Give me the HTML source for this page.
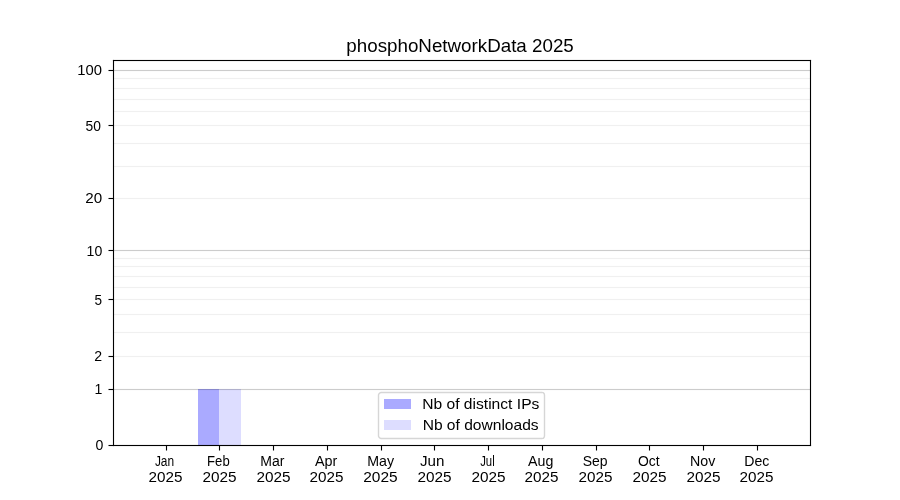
<!DOCTYPE html>
<html><head><meta charset="utf-8"><title>phosphoNetworkData 2025</title><style>html,body{margin:0;padding:0;background:#fff;width:900px;height:500px;overflow:hidden}svg{display:block;will-change:transform}text{font-family:"Liberation Sans",sans-serif;fill:#000}</style></head><body>
<svg width="900" height="500" viewBox="0 0 900 500">
<rect width="900" height="500" fill="#fff"/>
<g shape-rendering="crispEdges">
<rect x="198" y="389" width="21" height="56" fill="#aaaaff"/>
<rect x="219" y="389" width="22" height="56" fill="#ddddff"/>
<rect x="114" y="78" width="696" height="1" fill="#000" fill-opacity="0.06"/>
<rect x="114" y="77" width="696" height="1" fill="#000" fill-opacity="0.005"/>
<rect x="114" y="79" width="696" height="1" fill="#000" fill-opacity="0.005"/>
<rect x="114" y="88" width="696" height="1" fill="#000" fill-opacity="0.06"/>
<rect x="114" y="87" width="696" height="1" fill="#000" fill-opacity="0.005"/>
<rect x="114" y="89" width="696" height="1" fill="#000" fill-opacity="0.005"/>
<rect x="114" y="99" width="696" height="1" fill="#000" fill-opacity="0.06"/>
<rect x="114" y="98" width="696" height="1" fill="#000" fill-opacity="0.005"/>
<rect x="114" y="100" width="696" height="1" fill="#000" fill-opacity="0.005"/>
<rect x="114" y="111" width="696" height="1" fill="#000" fill-opacity="0.06"/>
<rect x="114" y="110" width="696" height="1" fill="#000" fill-opacity="0.005"/>
<rect x="114" y="112" width="696" height="1" fill="#000" fill-opacity="0.005"/>
<rect x="114" y="125" width="696" height="1" fill="#000" fill-opacity="0.06"/>
<rect x="114" y="124" width="696" height="1" fill="#000" fill-opacity="0.005"/>
<rect x="114" y="126" width="696" height="1" fill="#000" fill-opacity="0.005"/>
<rect x="114" y="143" width="696" height="1" fill="#000" fill-opacity="0.06"/>
<rect x="114" y="142" width="696" height="1" fill="#000" fill-opacity="0.005"/>
<rect x="114" y="144" width="696" height="1" fill="#000" fill-opacity="0.005"/>
<rect x="114" y="166" width="696" height="1" fill="#000" fill-opacity="0.06"/>
<rect x="114" y="165" width="696" height="1" fill="#000" fill-opacity="0.005"/>
<rect x="114" y="167" width="696" height="1" fill="#000" fill-opacity="0.005"/>
<rect x="114" y="198" width="696" height="1" fill="#000" fill-opacity="0.06"/>
<rect x="114" y="197" width="696" height="1" fill="#000" fill-opacity="0.005"/>
<rect x="114" y="199" width="696" height="1" fill="#000" fill-opacity="0.005"/>
<rect x="114" y="258" width="696" height="1" fill="#000" fill-opacity="0.06"/>
<rect x="114" y="257" width="696" height="1" fill="#000" fill-opacity="0.005"/>
<rect x="114" y="259" width="696" height="1" fill="#000" fill-opacity="0.005"/>
<rect x="114" y="266" width="696" height="1" fill="#000" fill-opacity="0.06"/>
<rect x="114" y="265" width="696" height="1" fill="#000" fill-opacity="0.005"/>
<rect x="114" y="267" width="696" height="1" fill="#000" fill-opacity="0.005"/>
<rect x="114" y="276" width="696" height="1" fill="#000" fill-opacity="0.06"/>
<rect x="114" y="275" width="696" height="1" fill="#000" fill-opacity="0.005"/>
<rect x="114" y="277" width="696" height="1" fill="#000" fill-opacity="0.005"/>
<rect x="114" y="287" width="696" height="1" fill="#000" fill-opacity="0.06"/>
<rect x="114" y="286" width="696" height="1" fill="#000" fill-opacity="0.005"/>
<rect x="114" y="288" width="696" height="1" fill="#000" fill-opacity="0.005"/>
<rect x="114" y="299" width="696" height="1" fill="#000" fill-opacity="0.06"/>
<rect x="114" y="298" width="696" height="1" fill="#000" fill-opacity="0.005"/>
<rect x="114" y="300" width="696" height="1" fill="#000" fill-opacity="0.005"/>
<rect x="114" y="314" width="696" height="1" fill="#000" fill-opacity="0.06"/>
<rect x="114" y="313" width="696" height="1" fill="#000" fill-opacity="0.005"/>
<rect x="114" y="315" width="696" height="1" fill="#000" fill-opacity="0.005"/>
<rect x="114" y="332" width="696" height="1" fill="#000" fill-opacity="0.06"/>
<rect x="114" y="331" width="696" height="1" fill="#000" fill-opacity="0.005"/>
<rect x="114" y="333" width="696" height="1" fill="#000" fill-opacity="0.005"/>
<rect x="114" y="356" width="696" height="1" fill="#000" fill-opacity="0.06"/>
<rect x="114" y="355" width="696" height="1" fill="#000" fill-opacity="0.005"/>
<rect x="114" y="357" width="696" height="1" fill="#000" fill-opacity="0.005"/>
<rect x="114" y="70" width="696" height="1" fill="#000" fill-opacity="0.2"/>
<rect x="114" y="69" width="696" height="1" fill="#000" fill-opacity="0.012"/>
<rect x="114" y="71" width="696" height="1" fill="#000" fill-opacity="0.012"/>
<rect x="114" y="250" width="696" height="1" fill="#000" fill-opacity="0.2"/>
<rect x="114" y="249" width="696" height="1" fill="#000" fill-opacity="0.012"/>
<rect x="114" y="251" width="696" height="1" fill="#000" fill-opacity="0.012"/>
<rect x="114" y="389" width="696" height="1" fill="#000" fill-opacity="0.2"/>
<rect x="114" y="388" width="696" height="1" fill="#000" fill-opacity="0.012"/>
<rect x="114" y="390" width="696" height="1" fill="#000" fill-opacity="0.012"/>
<rect x="112" y="59" width="700" height="1" fill="#000" fill-opacity="0.055"/>
<rect x="112" y="61" width="700" height="1" fill="#000" fill-opacity="0.055"/>
<rect x="112" y="444" width="700" height="1" fill="#000" fill-opacity="0.055"/>
<rect x="112" y="446" width="700" height="1" fill="#000" fill-opacity="0.055"/>
<rect x="112" y="62" width="1" height="382" fill="#000" fill-opacity="0.055"/>
<rect x="114" y="62" width="1" height="382" fill="#000" fill-opacity="0.055"/>
<rect x="809" y="62" width="1" height="382" fill="#000" fill-opacity="0.055"/>
<rect x="811" y="62" width="1" height="382" fill="#000" fill-opacity="0.055"/>
<rect x="113" y="60" width="698" height="1" fill="#000"/>
<rect x="113" y="445" width="698" height="1" fill="#000"/>
<rect x="113" y="60" width="1" height="386" fill="#000"/>
<rect x="810" y="60" width="1" height="386" fill="#000"/>
<rect x="109" y="444" width="3" height="1" fill="#000" fill-opacity="0.055"/>
<rect x="109" y="446" width="3" height="1" fill="#000" fill-opacity="0.055"/>
<rect x="108" y="444" width="1" height="1" fill="#000" fill-opacity="0.027"/>
<rect x="108" y="446" width="1" height="1" fill="#000" fill-opacity="0.027"/>
<rect x="112" y="444" width="1" height="1" fill="#000" fill-opacity="0.055"/>
<rect x="112" y="446" width="1" height="1" fill="#000" fill-opacity="0.055"/>
<rect x="109" y="445" width="4" height="1" fill="#000"/>
<rect x="109" y="388" width="3" height="1" fill="#000" fill-opacity="0.055"/>
<rect x="109" y="390" width="3" height="1" fill="#000" fill-opacity="0.055"/>
<rect x="108" y="388" width="1" height="1" fill="#000" fill-opacity="0.027"/>
<rect x="108" y="390" width="1" height="1" fill="#000" fill-opacity="0.027"/>
<rect x="112" y="388" width="1" height="1" fill="#000" fill-opacity="0.055"/>
<rect x="112" y="390" width="1" height="1" fill="#000" fill-opacity="0.055"/>
<rect x="109" y="389" width="4" height="1" fill="#000"/>
<rect x="109" y="355" width="3" height="1" fill="#000" fill-opacity="0.055"/>
<rect x="109" y="357" width="3" height="1" fill="#000" fill-opacity="0.055"/>
<rect x="108" y="355" width="1" height="1" fill="#000" fill-opacity="0.027"/>
<rect x="108" y="357" width="1" height="1" fill="#000" fill-opacity="0.027"/>
<rect x="112" y="355" width="1" height="1" fill="#000" fill-opacity="0.055"/>
<rect x="112" y="357" width="1" height="1" fill="#000" fill-opacity="0.055"/>
<rect x="109" y="356" width="4" height="1" fill="#000"/>
<rect x="109" y="298" width="3" height="1" fill="#000" fill-opacity="0.055"/>
<rect x="109" y="300" width="3" height="1" fill="#000" fill-opacity="0.055"/>
<rect x="108" y="298" width="1" height="1" fill="#000" fill-opacity="0.027"/>
<rect x="108" y="300" width="1" height="1" fill="#000" fill-opacity="0.027"/>
<rect x="112" y="298" width="1" height="1" fill="#000" fill-opacity="0.055"/>
<rect x="112" y="300" width="1" height="1" fill="#000" fill-opacity="0.055"/>
<rect x="109" y="299" width="4" height="1" fill="#000"/>
<rect x="109" y="249" width="3" height="1" fill="#000" fill-opacity="0.055"/>
<rect x="109" y="251" width="3" height="1" fill="#000" fill-opacity="0.055"/>
<rect x="108" y="249" width="1" height="1" fill="#000" fill-opacity="0.027"/>
<rect x="108" y="251" width="1" height="1" fill="#000" fill-opacity="0.027"/>
<rect x="112" y="249" width="1" height="1" fill="#000" fill-opacity="0.055"/>
<rect x="112" y="251" width="1" height="1" fill="#000" fill-opacity="0.055"/>
<rect x="109" y="250" width="4" height="1" fill="#000"/>
<rect x="109" y="197" width="3" height="1" fill="#000" fill-opacity="0.055"/>
<rect x="109" y="199" width="3" height="1" fill="#000" fill-opacity="0.055"/>
<rect x="108" y="197" width="1" height="1" fill="#000" fill-opacity="0.027"/>
<rect x="108" y="199" width="1" height="1" fill="#000" fill-opacity="0.027"/>
<rect x="112" y="197" width="1" height="1" fill="#000" fill-opacity="0.055"/>
<rect x="112" y="199" width="1" height="1" fill="#000" fill-opacity="0.055"/>
<rect x="109" y="198" width="4" height="1" fill="#000"/>
<rect x="109" y="124" width="3" height="1" fill="#000" fill-opacity="0.055"/>
<rect x="109" y="126" width="3" height="1" fill="#000" fill-opacity="0.055"/>
<rect x="108" y="124" width="1" height="1" fill="#000" fill-opacity="0.027"/>
<rect x="108" y="126" width="1" height="1" fill="#000" fill-opacity="0.027"/>
<rect x="112" y="124" width="1" height="1" fill="#000" fill-opacity="0.055"/>
<rect x="112" y="126" width="1" height="1" fill="#000" fill-opacity="0.055"/>
<rect x="109" y="125" width="4" height="1" fill="#000"/>
<rect x="109" y="69" width="3" height="1" fill="#000" fill-opacity="0.055"/>
<rect x="109" y="71" width="3" height="1" fill="#000" fill-opacity="0.055"/>
<rect x="108" y="69" width="1" height="1" fill="#000" fill-opacity="0.027"/>
<rect x="108" y="71" width="1" height="1" fill="#000" fill-opacity="0.027"/>
<rect x="112" y="69" width="1" height="1" fill="#000" fill-opacity="0.055"/>
<rect x="112" y="71" width="1" height="1" fill="#000" fill-opacity="0.055"/>
<rect x="109" y="70" width="4" height="1" fill="#000"/>
<rect x="165" y="447" width="1" height="3" fill="#000" fill-opacity="0.055"/>
<rect x="167" y="447" width="1" height="3" fill="#000" fill-opacity="0.055"/>
<rect x="165" y="450" width="1" height="1" fill="#000" fill-opacity="0.027"/>
<rect x="167" y="450" width="1" height="1" fill="#000" fill-opacity="0.027"/>
<rect x="165" y="446" width="1" height="1" fill="#000" fill-opacity="0.055"/>
<rect x="167" y="446" width="1" height="1" fill="#000" fill-opacity="0.055"/>
<rect x="166" y="446" width="1" height="4" fill="#000"/>
<rect x="218" y="447" width="1" height="3" fill="#000" fill-opacity="0.055"/>
<rect x="220" y="447" width="1" height="3" fill="#000" fill-opacity="0.055"/>
<rect x="218" y="450" width="1" height="1" fill="#000" fill-opacity="0.027"/>
<rect x="220" y="450" width="1" height="1" fill="#000" fill-opacity="0.027"/>
<rect x="218" y="446" width="1" height="1" fill="#000" fill-opacity="0.055"/>
<rect x="220" y="446" width="1" height="1" fill="#000" fill-opacity="0.055"/>
<rect x="219" y="446" width="1" height="4" fill="#000"/>
<rect x="272" y="447" width="1" height="3" fill="#000" fill-opacity="0.055"/>
<rect x="274" y="447" width="1" height="3" fill="#000" fill-opacity="0.055"/>
<rect x="272" y="450" width="1" height="1" fill="#000" fill-opacity="0.027"/>
<rect x="274" y="450" width="1" height="1" fill="#000" fill-opacity="0.027"/>
<rect x="272" y="446" width="1" height="1" fill="#000" fill-opacity="0.055"/>
<rect x="274" y="446" width="1" height="1" fill="#000" fill-opacity="0.055"/>
<rect x="273" y="446" width="1" height="4" fill="#000"/>
<rect x="326" y="447" width="1" height="3" fill="#000" fill-opacity="0.055"/>
<rect x="328" y="447" width="1" height="3" fill="#000" fill-opacity="0.055"/>
<rect x="326" y="450" width="1" height="1" fill="#000" fill-opacity="0.027"/>
<rect x="328" y="450" width="1" height="1" fill="#000" fill-opacity="0.027"/>
<rect x="326" y="446" width="1" height="1" fill="#000" fill-opacity="0.055"/>
<rect x="328" y="446" width="1" height="1" fill="#000" fill-opacity="0.055"/>
<rect x="327" y="446" width="1" height="4" fill="#000"/>
<rect x="380" y="447" width="1" height="3" fill="#000" fill-opacity="0.055"/>
<rect x="382" y="447" width="1" height="3" fill="#000" fill-opacity="0.055"/>
<rect x="380" y="450" width="1" height="1" fill="#000" fill-opacity="0.027"/>
<rect x="382" y="450" width="1" height="1" fill="#000" fill-opacity="0.027"/>
<rect x="380" y="446" width="1" height="1" fill="#000" fill-opacity="0.055"/>
<rect x="382" y="446" width="1" height="1" fill="#000" fill-opacity="0.055"/>
<rect x="381" y="446" width="1" height="4" fill="#000"/>
<rect x="433" y="447" width="1" height="3" fill="#000" fill-opacity="0.055"/>
<rect x="435" y="447" width="1" height="3" fill="#000" fill-opacity="0.055"/>
<rect x="433" y="450" width="1" height="1" fill="#000" fill-opacity="0.027"/>
<rect x="435" y="450" width="1" height="1" fill="#000" fill-opacity="0.027"/>
<rect x="433" y="446" width="1" height="1" fill="#000" fill-opacity="0.055"/>
<rect x="435" y="446" width="1" height="1" fill="#000" fill-opacity="0.055"/>
<rect x="434" y="446" width="1" height="4" fill="#000"/>
<rect x="487" y="447" width="1" height="3" fill="#000" fill-opacity="0.055"/>
<rect x="489" y="447" width="1" height="3" fill="#000" fill-opacity="0.055"/>
<rect x="487" y="450" width="1" height="1" fill="#000" fill-opacity="0.027"/>
<rect x="489" y="450" width="1" height="1" fill="#000" fill-opacity="0.027"/>
<rect x="487" y="446" width="1" height="1" fill="#000" fill-opacity="0.055"/>
<rect x="489" y="446" width="1" height="1" fill="#000" fill-opacity="0.055"/>
<rect x="488" y="446" width="1" height="4" fill="#000"/>
<rect x="541" y="447" width="1" height="3" fill="#000" fill-opacity="0.055"/>
<rect x="543" y="447" width="1" height="3" fill="#000" fill-opacity="0.055"/>
<rect x="541" y="450" width="1" height="1" fill="#000" fill-opacity="0.027"/>
<rect x="543" y="450" width="1" height="1" fill="#000" fill-opacity="0.027"/>
<rect x="541" y="446" width="1" height="1" fill="#000" fill-opacity="0.055"/>
<rect x="543" y="446" width="1" height="1" fill="#000" fill-opacity="0.055"/>
<rect x="542" y="446" width="1" height="4" fill="#000"/>
<rect x="595" y="447" width="1" height="3" fill="#000" fill-opacity="0.055"/>
<rect x="597" y="447" width="1" height="3" fill="#000" fill-opacity="0.055"/>
<rect x="595" y="450" width="1" height="1" fill="#000" fill-opacity="0.027"/>
<rect x="597" y="450" width="1" height="1" fill="#000" fill-opacity="0.027"/>
<rect x="595" y="446" width="1" height="1" fill="#000" fill-opacity="0.055"/>
<rect x="597" y="446" width="1" height="1" fill="#000" fill-opacity="0.055"/>
<rect x="596" y="446" width="1" height="4" fill="#000"/>
<rect x="648" y="447" width="1" height="3" fill="#000" fill-opacity="0.055"/>
<rect x="650" y="447" width="1" height="3" fill="#000" fill-opacity="0.055"/>
<rect x="648" y="450" width="1" height="1" fill="#000" fill-opacity="0.027"/>
<rect x="650" y="450" width="1" height="1" fill="#000" fill-opacity="0.027"/>
<rect x="648" y="446" width="1" height="1" fill="#000" fill-opacity="0.055"/>
<rect x="650" y="446" width="1" height="1" fill="#000" fill-opacity="0.055"/>
<rect x="649" y="446" width="1" height="4" fill="#000"/>
<rect x="702" y="447" width="1" height="3" fill="#000" fill-opacity="0.055"/>
<rect x="704" y="447" width="1" height="3" fill="#000" fill-opacity="0.055"/>
<rect x="702" y="450" width="1" height="1" fill="#000" fill-opacity="0.027"/>
<rect x="704" y="450" width="1" height="1" fill="#000" fill-opacity="0.027"/>
<rect x="702" y="446" width="1" height="1" fill="#000" fill-opacity="0.055"/>
<rect x="704" y="446" width="1" height="1" fill="#000" fill-opacity="0.055"/>
<rect x="703" y="446" width="1" height="4" fill="#000"/>
<rect x="756" y="447" width="1" height="3" fill="#000" fill-opacity="0.055"/>
<rect x="758" y="447" width="1" height="3" fill="#000" fill-opacity="0.055"/>
<rect x="756" y="450" width="1" height="1" fill="#000" fill-opacity="0.027"/>
<rect x="758" y="450" width="1" height="1" fill="#000" fill-opacity="0.027"/>
<rect x="756" y="446" width="1" height="1" fill="#000" fill-opacity="0.055"/>
<rect x="758" y="446" width="1" height="1" fill="#000" fill-opacity="0.055"/>
<rect x="757" y="446" width="1" height="4" fill="#000"/>
</g>
<rect x="108" y="445" width="1" height="1" fill="#000" fill-opacity="0.5" shape-rendering="crispEdges"/>
<rect x="108" y="389" width="1" height="1" fill="#000" fill-opacity="0.5" shape-rendering="crispEdges"/>
<rect x="108" y="356" width="1" height="1" fill="#000" fill-opacity="0.5" shape-rendering="crispEdges"/>
<rect x="108" y="299" width="1" height="1" fill="#000" fill-opacity="0.5" shape-rendering="crispEdges"/>
<rect x="108" y="250" width="1" height="1" fill="#000" fill-opacity="0.5" shape-rendering="crispEdges"/>
<rect x="108" y="198" width="1" height="1" fill="#000" fill-opacity="0.5" shape-rendering="crispEdges"/>
<rect x="108" y="125" width="1" height="1" fill="#000" fill-opacity="0.5" shape-rendering="crispEdges"/>
<rect x="108" y="70" width="1" height="1" fill="#000" fill-opacity="0.5" shape-rendering="crispEdges"/>
<rect x="166" y="450" width="1" height="1" fill="#000" fill-opacity="0.5" shape-rendering="crispEdges"/>
<rect x="219" y="450" width="1" height="1" fill="#000" fill-opacity="0.5" shape-rendering="crispEdges"/>
<rect x="273" y="450" width="1" height="1" fill="#000" fill-opacity="0.5" shape-rendering="crispEdges"/>
<rect x="327" y="450" width="1" height="1" fill="#000" fill-opacity="0.5" shape-rendering="crispEdges"/>
<rect x="381" y="450" width="1" height="1" fill="#000" fill-opacity="0.5" shape-rendering="crispEdges"/>
<rect x="434" y="450" width="1" height="1" fill="#000" fill-opacity="0.5" shape-rendering="crispEdges"/>
<rect x="488" y="450" width="1" height="1" fill="#000" fill-opacity="0.5" shape-rendering="crispEdges"/>
<rect x="542" y="450" width="1" height="1" fill="#000" fill-opacity="0.5" shape-rendering="crispEdges"/>
<rect x="596" y="450" width="1" height="1" fill="#000" fill-opacity="0.5" shape-rendering="crispEdges"/>
<rect x="649" y="450" width="1" height="1" fill="#000" fill-opacity="0.5" shape-rendering="crispEdges"/>
<rect x="703" y="450" width="1" height="1" fill="#000" fill-opacity="0.5" shape-rendering="crispEdges"/>
<rect x="757" y="450" width="1" height="1" fill="#000" fill-opacity="0.5" shape-rendering="crispEdges"/>
<rect x="378.5" y="392.5" width="166" height="46" rx="2.78" fill="#fff" fill-opacity="0.8" stroke="#ccc" stroke-opacity="0.8" stroke-width="1.39"/>
<g shape-rendering="crispEdges">
<rect x="384" y="399" width="27" height="10" fill="#aaaaff"/>
<rect x="384" y="420" width="27" height="10" fill="#ddddff"/>
</g>
<g shape-rendering="crispEdges">
<rect x="112" y="59" width="1" height="1" fill="#fdfdfd"/>
<rect x="113" y="59" width="1" height="1" fill="#e3e3e3"/>
<rect x="810" y="59" width="1" height="1" fill="#e3e3e3"/>
<rect x="811" y="59" width="1" height="1" fill="#fdfdfd"/>
<rect x="112" y="60" width="1" height="1" fill="#e3e3e3"/>
<rect x="811" y="60" width="1" height="1" fill="#e3e3e3"/>
<rect x="114" y="61" width="1" height="1" fill="#e3e3e3"/>
<rect x="809" y="61" width="1" height="1" fill="#e3e3e3"/>
<rect x="378" y="392" width="1" height="1" fill="#fefefe"/>
<rect x="379" y="392" width="1" height="1" fill="#e6e6e6"/>
<rect x="544" y="392" width="1" height="1" fill="#f9f9f9"/>
<rect x="378" y="393" width="1" height="1" fill="#e6e6e6"/>
<rect x="379" y="393" width="1" height="1" fill="#d6d6d6"/>
<rect x="542" y="393" width="1" height="1" fill="#f5f5f5"/>
<rect x="543" y="394" width="1" height="1" fill="#f0f0f0"/>
<rect x="543" y="436" width="1" height="1" fill="#f0f0f0"/>
<rect x="378" y="437" width="1" height="1" fill="#e6e6e6"/>
<rect x="379" y="437" width="1" height="1" fill="#d6d6d6"/>
<rect x="542" y="437" width="1" height="1" fill="#f5f5f5"/>
<rect x="378" y="438" width="1" height="1" fill="#fefefe"/>
<rect x="379" y="438" width="1" height="1" fill="#e6e6e6"/>
<rect x="543" y="438" width="1" height="1" fill="#d8d8d8"/>
<rect x="114" y="444" width="1" height="1" fill="#e3e3e3"/>
<rect x="809" y="444" width="1" height="1" fill="#e3e3e3"/>
<rect x="811" y="445" width="1" height="1" fill="#e3e3e3"/>
<rect x="112" y="446" width="1" height="1" fill="#efefef"/>
<rect x="113" y="446" width="1" height="1" fill="#dddddd"/>
<rect x="810" y="446" width="1" height="1" fill="#e3e3e3"/>
<rect x="811" y="446" width="1" height="1" fill="#fdfdfd"/>
<rect x="420" y="463" width="2" height="1" fill="#ffffff"/>
<rect x="420" y="464" width="2" height="1" fill="#ffffff"/>
<rect x="421" y="465" width="1" height="1" fill="#ffffff"/>
</g>
<text x="460.05" y="51.85" font-size="18.86" text-anchor="middle" textLength="227.47" lengthAdjust="spacingAndGlyphs">phosphoNetworkData 2025</text>
<text x="103.45" y="450.00" font-size="13.90" text-anchor="end" textLength="7.84" lengthAdjust="spacingAndGlyphs">0</text>
<text x="102.25" y="394.00" font-size="15.30" text-anchor="end" textLength="7.84" lengthAdjust="spacingAndGlyphs">1</text>
<text x="102.00" y="361.00" font-size="14.10" text-anchor="end" textLength="7.84" lengthAdjust="spacingAndGlyphs">2</text>
<text x="102.15" y="304.70" font-size="15.50" text-anchor="end" textLength="7.54" lengthAdjust="spacingAndGlyphs">5</text>
<text x="102.25" y="255.70" font-size="15.30" text-anchor="end" textLength="15.69" lengthAdjust="spacingAndGlyphs">10</text>
<text x="102.15" y="203.00" font-size="13.90" text-anchor="end" textLength="16.89" lengthAdjust="spacingAndGlyphs">20</text>
<text x="100.95" y="130.70" font-size="14.90" text-anchor="end" textLength="15.39" lengthAdjust="spacingAndGlyphs">50</text>
<text x="101.90" y="75.00" font-size="15.30" text-anchor="end" textLength="24.72" lengthAdjust="spacingAndGlyphs">100</text>
<text x="164.50" y="466.00" font-size="14.70" text-anchor="middle" textLength="19.23" lengthAdjust="spacingAndGlyphs">Jan</text>
<text x="165.45" y="482.00" font-size="14.50" text-anchor="middle" textLength="33.94" lengthAdjust="spacingAndGlyphs">2025</text>
<text x="218.40" y="466.00" font-size="14.70" text-anchor="middle" textLength="22.60" lengthAdjust="spacingAndGlyphs">Feb</text>
<text x="219.50" y="482.00" font-size="14.50" text-anchor="middle" textLength="34.14" lengthAdjust="spacingAndGlyphs">2025</text>
<text x="272.30" y="466.00" font-size="15.30" text-anchor="middle" textLength="24.18" lengthAdjust="spacingAndGlyphs">Mar</text>
<text x="273.50" y="482.00" font-size="14.50" text-anchor="middle" textLength="34.14" lengthAdjust="spacingAndGlyphs">2025</text>
<text x="326.05" y="466.00" font-size="14.70" text-anchor="middle" textLength="22.34" lengthAdjust="spacingAndGlyphs">Apr</text>
<text x="326.45" y="482.00" font-size="14.50" text-anchor="middle" textLength="33.94" lengthAdjust="spacingAndGlyphs">2025</text>
<text x="380.70" y="466.00" font-size="14.10" text-anchor="middle" textLength="26.84" lengthAdjust="spacingAndGlyphs">May</text>
<text x="380.45" y="482.00" font-size="14.50" text-anchor="middle" textLength="34.44" lengthAdjust="spacingAndGlyphs">2025</text>
<text x="432.25" y="466.00" font-size="14.90" text-anchor="middle" textLength="24.43" lengthAdjust="spacingAndGlyphs">Jun</text>
<text x="434.50" y="482.00" font-size="14.50" text-anchor="middle" textLength="34.14" lengthAdjust="spacingAndGlyphs">2025</text>
<text x="487.45" y="466.00" font-size="14.10" text-anchor="middle" textLength="14.53" lengthAdjust="spacingAndGlyphs">Jul</text>
<text x="488.50" y="482.00" font-size="14.50" text-anchor="middle" textLength="34.14" lengthAdjust="spacingAndGlyphs">2025</text>
<text x="540.75" y="466.00" font-size="14.50" text-anchor="middle" textLength="25.28" lengthAdjust="spacingAndGlyphs">Aug</text>
<text x="541.45" y="482.00" font-size="14.50" text-anchor="middle" textLength="33.94" lengthAdjust="spacingAndGlyphs">2025</text>
<text x="595.20" y="466.00" font-size="14.10" text-anchor="middle" textLength="24.88" lengthAdjust="spacingAndGlyphs">Sep</text>
<text x="595.45" y="482.00" font-size="14.50" text-anchor="middle" textLength="33.94" lengthAdjust="spacingAndGlyphs">2025</text>
<text x="648.85" y="466.00" font-size="14.10" text-anchor="middle" textLength="21.64" lengthAdjust="spacingAndGlyphs">Oct</text>
<text x="649.50" y="482.00" font-size="14.50" text-anchor="middle" textLength="34.14" lengthAdjust="spacingAndGlyphs">2025</text>
<text x="702.65" y="466.00" font-size="14.70" text-anchor="middle" textLength="25.28" lengthAdjust="spacingAndGlyphs">Nov</text>
<text x="703.50" y="482.00" font-size="14.50" text-anchor="middle" textLength="34.14" lengthAdjust="spacingAndGlyphs">2025</text>
<text x="756.80" y="466.00" font-size="14.90" text-anchor="middle" textLength="25.08" lengthAdjust="spacingAndGlyphs">Dec</text>
<text x="756.45" y="482.00" font-size="14.50" text-anchor="middle" textLength="33.94" lengthAdjust="spacingAndGlyphs">2025</text>
<text x="422.15" y="409.00" font-size="14.70" text-anchor="start" textLength="117.25" lengthAdjust="spacingAndGlyphs">Nb of distinct IPs</text>
<text x="422.65" y="430.00" font-size="14.70" text-anchor="start" textLength="116.00" lengthAdjust="spacingAndGlyphs">Nb of downloads</text>
</svg></body></html>
